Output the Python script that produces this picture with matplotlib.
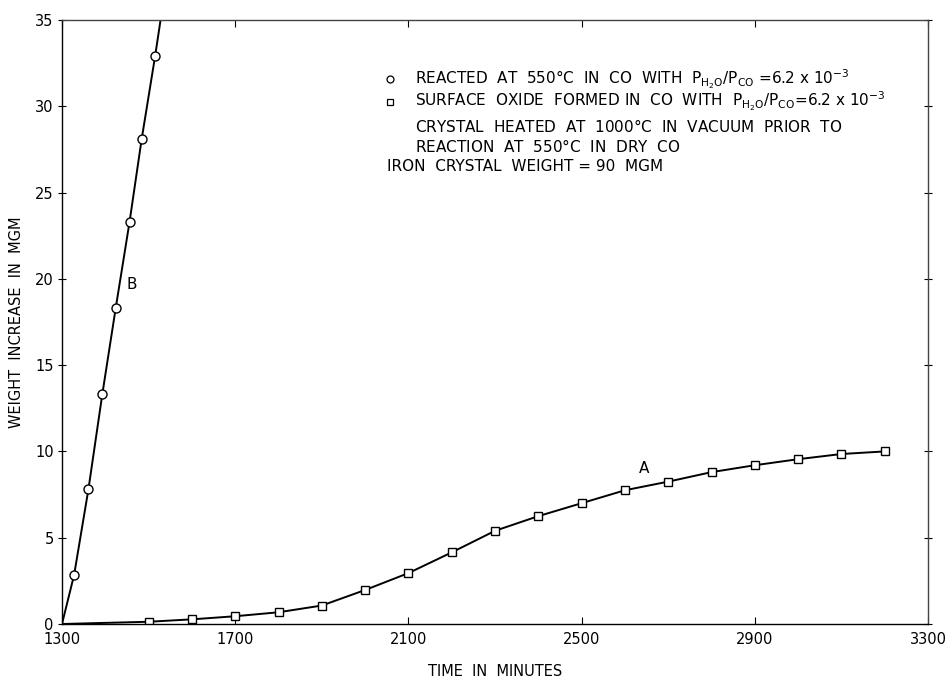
import matplotlib
matplotlib.use("Agg")
import matplotlib.pyplot as plt

# curve B - reacted in wet CO (circles)
t_b = [1328, 1361, 1393, 1424, 1456, 1484, 1515]
w_b = [2.85, 7.8, 13.3, 18.3, 23.3, 28.1, 32.9]
# drawn line of B: starts at origin, runs off the top of the plot
t_b_line = [1300] + t_b + [1530]
w_b_line = [0] + w_b + [35.4]

# curve A - surface oxide, then dry CO (squares)
t_a = [1500, 1600, 1700, 1800, 1900, 2000, 2100, 2200, 2300, 2400,
       2500, 2600, 2700, 2800, 2900, 3000, 3100, 3200]
w_a = [0.13, 0.27, 0.45, 0.68, 1.07, 1.97, 2.95, 4.15, 5.4, 6.25,
       7.0, 7.75, 8.25, 8.8, 9.2, 9.55, 9.85, 10.0]
t_a_line = [1300] + t_a
w_a_line = [0] + w_a

x_ticks = [1300, 1700, 2100, 2500, 2900, 3300]
y_ticks = [0, 5, 10, 15, 20, 25, 30, 35]

plt.rcParams['font.family'] = 'DejaVu Sans'
plt.rcParams['mathtext.fontset'] = 'dejavusans'

fig = plt.figure(figsize=(9.48, 6.81), dpi=100)
ax = fig.add_axes([0.0654, 0.0837, 0.9136, 0.887])

ax.plot(t_b_line, w_b_line, '-', color='black', lw=1.4)
ax.plot(t_b, w_b, 'o', ms=6.5, mfc='white', mec='black', mew=1.0)
ax.plot(t_a_line, w_a_line, '-', color='black', lw=1.4)
ax.plot(t_a, w_a, 's', ms=6, mfc='white', mec='black', mew=1.0)

ax.set_xlim(1300, 3300)
ax.set_ylim(0, 35)
ax.set_xticks(x_ticks)
ax.set_yticks(y_ticks)
ax.tick_params(axis='x', direction='in', length=5, top=True, labelsize=10.5, pad=6)
ax.tick_params(axis='y', direction='inout', length=6, right=True, labelsize=10.5, pad=3)
for s in ax.spines.values():
    s.set_linewidth(1.0)
ax.spines['top'].set_color('#444444')
ax.spines['right'].set_color('#444444')

ax.set_xlabel("TIME  IN  MINUTES", fontsize=10.5, labelpad=12)
ax.set_ylabel("WEIGHT  INCREASE  IN  MGM", fontsize=10.5, labelpad=8)

# curve labels
ax.text(1460, 19.7, "B", fontsize=11, ha='center', va='center')
ax.text(2644, 9.0, "A", fontsize=11, ha='center', va='center')

# key in the upper right
ax.plot([2058], [31.56], 'o', ms=5, mfc='white', mec='black', mew=0.9)
ax.plot([2058], [30.26], 's', ms=4.5, mfc='white', mec='black', mew=0.9)
fs = 11
ax.text(2116, 31.56, r"REACTED  AT  550$\degree$C  IN  CO  WITH  $\mathrm{P_{H_2O}/P_{CO}}$ =6.2 x 10$^{-3}$",
        fontsize=fs, va='center')
ax.text(2116, 30.26, r"SURFACE  OXIDE  FORMED IN  CO  WITH  $\mathrm{P_{H_2O}/P_{CO}}$=6.2 x 10$^{-3}$",
        fontsize=fs, va='center')
ax.text(2116, 28.85, r"CRYSTAL  HEATED  AT  1000$\degree$C  IN  VACUUM  PRIOR  TO",
        fontsize=fs, va='center')
ax.text(2116, 27.69, r"REACTION  AT  550$\degree$C  IN  DRY  CO",
        fontsize=fs, va='center')
ax.text(2051, 26.49, "IRON  CRYSTAL  WEIGHT = 90  MGM",
        fontsize=fs, va='center')

fig.savefig("out.png", dpi=100)
